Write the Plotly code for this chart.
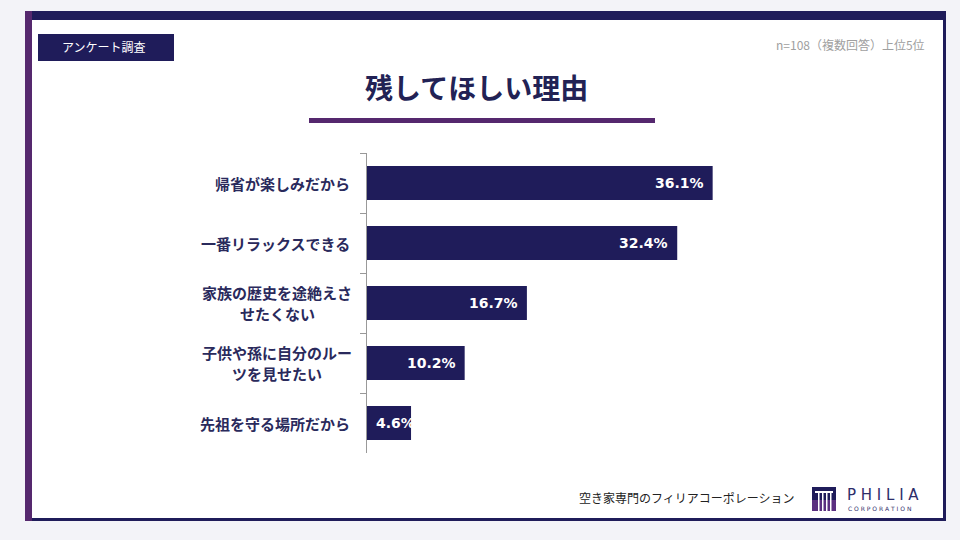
import plotly.graph_objects as go

categories = ["帰省が楽しみだから", "一番リラックスできる", "家族の歴史を途絶えさ<br>せたくない",
              "子供や孫に自分のルー<br>ツを見せたい", "先祖を守る場所だから"]
values = [36.1, 32.4, 16.7, 10.2, 4.6]

title_text = "残してほしい理由"
badge_text = "アンケート調査"
note_text = "n=108（複数回答）上位5位"
footer_text = "空き家専門のフィリアコーポレーション"

W, H = 960, 540
NAVY = "#1f1c5a"
PURPLE = "#55286e"
JP = "Noto Sans CJK JP"

def px(x):
    return x / W

def py(y):
    return 1 - y / H

fig = go.Figure()
fig.add_trace(go.Bar(
    y=categories, x=values, orientation="h",
    marker=dict(color=NAVY, line=dict(width=0)),
    hoverinfo="skip",
))

shapes = []
def rect(x0, y0, x1, y1, color, layer="below"):
    shapes.append(dict(type="rect", xref="paper", yref="paper",
                       x0=px(x0), x1=px(x1), y0=py(y1), y1=py(y0),
                       fillcolor=color, line=dict(width=0), layer=layer))

# card
rect(25, 11, 946, 521, "white")
rect(25, 11, 946, 20, NAVY)
rect(943, 11, 946, 521, NAVY)
rect(25, 518, 946, 521, NAVY)
rect(25, 11, 32, 521, PURPLE)
# badge
rect(38, 34, 174, 61, NAVY)
# title underline
rect(309, 118, 655, 123, PURPLE)
# logo
rect(812, 487, 836, 511, NAVY, "above")
rect(812, 500, 836, 511, "#5b2f80", "above")
for cx in (818, 822, 826, 830):
    rect(cx, 493, cx + 1.5, 511, "white", "above")
rect(815, 491, 833, 493, "white", "above")

annotations = []
LABEL_FONT = dict(family=JP, size=15, color="#2a2a5c", weight="bold")
for c in categories:
    lines = c.split("<br>")
    n = len(lines)
    for i, line in enumerate(lines):
        annotations.append(dict(xref="paper", yref="y", x=px(277) if n > 1 else px(352), y=c,
                                text=line, xanchor="center" if n > 1 else "right",
                                yanchor="middle", showarrow=False,
                                yshift=(n - 1) * 10.5 - i * 21, font=LABEL_FONT))

VAL_FONT = dict(color="white", size=14, family="DejaVu Sans", weight="bold")
for c, v in zip(categories, values):
    fits = v >= 6
    annotations.append(dict(xref="x", yref="y", x=v if fits else 0, y=c,
                            text=f"{v:.1f}%", xanchor="right" if fits else "left",
                            xshift=-7 if fits else 7, yanchor="middle", showarrow=False,
                            font=VAL_FONT))

def txt(x, y, t, size, color, anchor="center", weight="normal", family=JP):
    annotations.append(dict(xref="paper", yref="paper", x=px(x), y=py(y), text=t,
                            xanchor=anchor, yanchor="middle", showarrow=False,
                            font=dict(family=family, size=size, color=color, weight=weight)))

txt(104, 47, badge_text, 12, "white")
txt(927, 44, note_text, 12, "#a0a0a0", anchor="right")
txt(476, 87, title_text, 28, "#222255", weight="bold")
txt(797, 497, footer_text, 12, "#222222", anchor="right")
txt(845, 495, "P H I L I A", 15, "#2d2d6a", anchor="left", family="DejaVu Sans")
txt(846, 508, "C O R P O R A T I O N", 6, "#2d2d6a", anchor="left", family="DejaVu Sans")

fig.update_layout(
    width=W, height=H, margin=dict(l=0, r=0, t=0, b=0),
    paper_bgcolor="#f3f3f8", plot_bgcolor="rgba(0,0,0,0)",
    showlegend=False, bargap=0.43,
    shapes=shapes, annotations=annotations,
    xaxis=dict(domain=[px(367), px(750)], range=[0, 40], visible=False, fixedrange=True),
    yaxis=dict(domain=[py(453), py(153)], autorange="reversed", showticklabels=False,
               showline=True, linecolor="#999999", linewidth=1,
               ticks="outside", tickson="boundaries", ticklen=6, tickcolor="#999999",
               showgrid=False, zeroline=False, fixedrange=True),
)

fig.write_html("out.html", config={"displayModeBar": False})
